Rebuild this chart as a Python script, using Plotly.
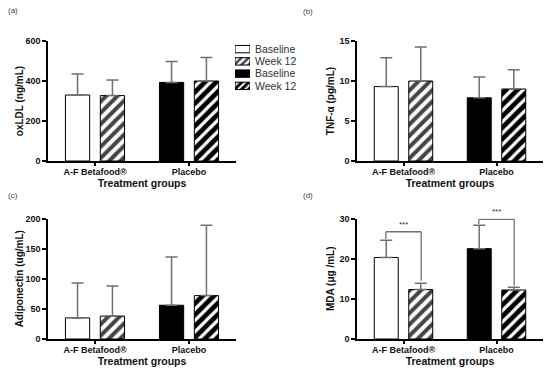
import plotly.graph_objects as go

# ---------------- data ----------------
groups = ["A-F Betafood®", "Placebo"]
series = ["Baseline", "Week 12"]
legend_labels = ["Baseline", "Week 12", "Baseline", "Week 12"]

oxldl_baseline = [330, 393]
oxldl_baseline_sd = [105, 104]
oxldl_week12 = [327, 400]
oxldl_week12_sd = [78, 117]

tnf_baseline = [9.3, 7.9]
tnf_baseline_sd = [3.6, 2.6]
tnf_week12 = [10.0, 9.0]
tnf_week12_sd = [4.25, 2.4]

adipo_baseline = [35, 56]
adipo_baseline_sd = [58, 80]
adipo_week12 = [38, 72]
adipo_week12_sd = [50, 117]

mda_baseline = [20.3, 22.5]
mda_baseline_sd = [4.3, 5.8]
mda_week12 = [12.3, 12.2]
mda_week12_sd = [1.6, 0.7]

panels = [
    ("a", "oxLDL (ng/mL)", oxldl_baseline, oxldl_baseline_sd, oxldl_week12, oxldl_week12_sd, 600, 200),
    ("b", "TNF-α (pg/mL)", tnf_baseline, tnf_baseline_sd, tnf_week12, tnf_week12_sd, 15, 5),
    ("c", "Adiponectin (ug/mL)", adipo_baseline, adipo_baseline_sd, adipo_week12, adipo_week12_sd, 200, 50),
    ("d", "MDA (μg /mL)", mda_baseline, mda_baseline_sd, mda_week12, mda_week12_sd, 30, 10),
]

W, H = 550, 372
FONT = "Liberation Sans, Arial, sans-serif"
x_doms = [(48, 236), (357, 543), (48, 236), (357, 543)]
y_doms = [(41, 161), (41, 161), (218.5, 339), (218.5, 339)]
y_title_standoff = [0, 3, 0, 3]

fig = go.Figure()
xpos = list(range(len(groups)))
fill_colors = ["white", "black"]
stripe_colors = ["black", "white"]
err_style = dict(type="data", symmetric=False, color="#707070", thickness=1.5, width=6)

layout = {}
for i, (lab, ytitle, base, base_sd, wk, wk_sd, ymax, dt) in enumerate(panels):
    n = "" if i == 0 else str(i + 1)
    fig.add_trace(go.Bar(
        x=xpos, y=base, name=series[0], xaxis="x" + n, yaxis="y" + n,
        marker=dict(color=fill_colors, line=dict(color="black", width=1)),
        error_y=dict(array=base_sd, arrayminus=[0] * len(base), **err_style),
        showlegend=False,
    ))
    fig.add_trace(go.Bar(
        x=xpos, y=wk, name=series[1], xaxis="x" + n, yaxis="y" + n,
        marker=dict(color=fill_colors, line=dict(color="black", width=1),
                    pattern=dict(shape="/", bgcolor=fill_colors, fgcolor=stripe_colors,
                                 fgopacity=1, size=8, solidity=[0.5, 0.4])),
        error_y=dict(array=wk_sd, arrayminus=[0] * len(wk), **err_style),
        showlegend=False,
    ))
    xd = x_doms[i]
    yd = y_doms[i]
    layout["xaxis" + n] = dict(
        domain=[xd[0] / W, xd[1] / W], anchor="y" + n, range=[-0.5, 1.5], automargin=False,
        tickvals=xpos, ticktext=groups, showline=True, linecolor="black", linewidth=1.5,
        ticks="outside", ticklen=3, tickwidth=1.5, tickcolor="black", showgrid=False,
        zeroline=False, ticklabelstandoff=-2,
        tickfont=dict(family=FONT, size=9, color="#111", weight="bold"),
        title=dict(text="Treatment groups", standoff=3,
                   font=dict(family=FONT, size=10.5, color="#111", weight="bold")),
    )
    layout["yaxis" + n] = dict(
        domain=[1 - yd[1] / H, 1 - yd[0] / H], anchor="x" + n, range=[0, ymax], dtick=dt,
        automargin=False,
        showline=True, linecolor="black", linewidth=1.5, ticks="outside", ticklen=4,
        tickwidth=1.5, tickcolor="black", showgrid=False, zeroline=False,
        tickfont=dict(family=FONT, size=9, color="#111", weight="bold"),
        title=dict(text=ytitle, standoff=y_title_standoff[i],
                   font=dict(family=FONT, size=10, color="#111", weight="bold")),
    )

# legend drawn as small key on its own hidden axes
fig.add_trace(go.Bar(
    y=list(range(len(legend_labels))), x=[1] * len(legend_labels), orientation="h",
    xaxis="x5", yaxis="y5", width=0.6, showlegend=False, hoverinfo="skip",
    marker=dict(color=["white", "white", "black", "black"], line=dict(color="black", width=1),
                pattern=dict(shape=["", "/", "", "/"], bgcolor=["white", "white", "black", "black"],
                             fgcolor=["black", "black", "white", "white"], fgopacity=1, size=5,
                             solidity=[0.5, 0.5, 0.4, 0.4])),
))
layout["xaxis5"] = dict(domain=[235 / W, 250 / W], anchor="y5", range=[0, 1], visible=False,
                        automargin=False)
layout["yaxis5"] = dict(domain=[1 - 92 / H, 1 - 43 / H], anchor="x5", range=[3.5, -0.5],
                        automargin=False,
                        side="right", tickvals=list(range(len(legend_labels))), ticktext=legend_labels,
                        showline=False, ticks="", showgrid=False, zeroline=False, ticklabelstandoff=4,
                        tickfont=dict(family=FONT, size=10.5, color="#333"))

annotations = []
for lab, (px, py) in zip("abcd", [(6, 11), (301, 12), (6, 195), (301, 195)]):
    annotations.append(dict(text="(" + lab + ")", x=px / W, y=1 - py / H, xref="paper", yref="paper",
                            xanchor="left", yanchor="middle", showarrow=False,
                            font=dict(family=FONT, size=8, color="#444")))

# significance brackets in panel (d)
brackets = [(-0.19, 0.19, 24.9, 26.7, 14.5), (0.81, 1.19, 28.6, 29.8, 13.3)]
shapes = []
for x0, x1, yl, ytop, yr in brackets:
    for (ax, ay, bx, by) in [(x0, yl, x0, ytop), (x0, ytop, x1, ytop), (x1, ytop, x1, yr)]:
        shapes.append(dict(type="line", xref="x4", yref="y4", x0=ax, y0=ay, x1=bx, y1=by,
                           line=dict(color="#707070", width=1.3)))
    annotations.append(dict(text="***", x=(x0 + x1) / 2, y=ytop, xref="x4", yref="y4",
                            yanchor="bottom", showarrow=False, yshift=1,
                            font=dict(family=FONT, size=8, color="#333")))

fig.update_layout(
    width=W, height=H, margin=dict(l=0, r=0, t=0, b=0, autoexpand=False),
    paper_bgcolor="white", plot_bgcolor="white",
    barmode="group", bargap=0.258, bargroupgap=0.305,
    font=dict(family=FONT, color="#111"),
    annotations=annotations, shapes=shapes, **layout,
)

# remove the browser's default page margin so the 550x372 figure fills the window
fig.write_html("out.html", config={"displayModeBar": False},
               post_script="document.body.style.margin='0px';")
